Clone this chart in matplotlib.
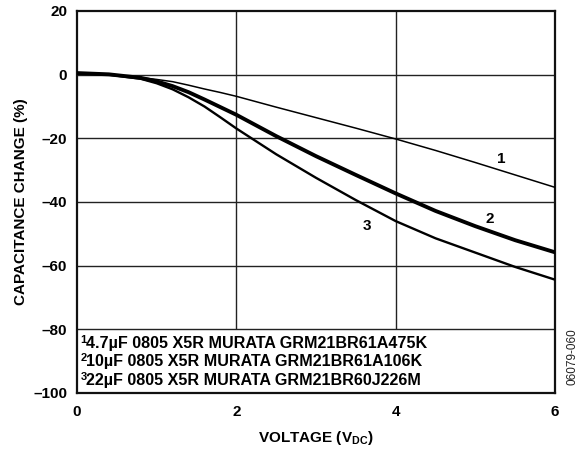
import matplotlib
matplotlib.use("Agg")
import matplotlib.pyplot as plt

plt.rcParams['font.family'] = ['Liberation Sans', 'DejaVu Sans']
plt.rcParams['font.weight'] = 'bold'
plt.rcParams['mathtext.fontset'] = 'custom'
plt.rcParams['mathtext.rm'] = 'Liberation Sans:bold'
plt.rcParams['mathtext.it'] = 'Liberation Sans:bold'
plt.rcParams['mathtext.bf'] = 'Liberation Sans:bold'

# ---- data ----
voltage = [0.0, 0.4, 0.8, 1.0, 1.2, 1.4, 1.6, 1.8, 2.0, 2.5, 3.0, 3.5, 4.0, 4.5, 5.0, 5.5, 6.0]
cap1 = [0.5, 0.1, -0.9, -1.5, -2.2, -3.3, -4.5, -5.6, -6.8, -10.2, -13.5, -16.8, -20.2, -23.8, -27.6, -31.5, -35.4]
cap2 = [0.5, 0.1, -1.0, -2.1, -3.6, -5.5, -7.8, -10.2, -12.6, -19.3, -25.6, -31.5, -37.3, -42.8, -47.6, -52.0, -55.8]
cap3 = [0.5, 0.0, -1.3, -2.7, -4.6, -7.1, -10.0, -13.4, -16.9, -25.0, -32.4, -39.4, -46.0, -51.4, -55.9, -60.4, -64.4]
curve_labels = ["1", "2", "3"]
label_pos = [(5.33, -26.6), (5.18, -45.3), (3.64, -47.5)]
legend_sups = ["1", "2", "3"]
legend_texts = [
    "4.7\u00b5F 0805 X5R MURATA GRM21BR61A475K",
    "10\u00b5F 0805 X5R MURATA GRM21BR61A106K",
    "22\u00b5F 0805 X5R MURATA GRM21BR60J226M",
]
xticks = [0, 2, 4, 6]
yticks = [20, 0, -20, -40, -60, -80, -100]

fig = plt.figure(figsize=(5.8, 4.49), dpi=100)
ax = fig.add_axes([77/580, 1 - 393/449, (555-77)/580, (393-11)/449])
ax.set_xlim(0, 6)
ax.set_ylim(-100, 20)

grid_c = '#222222'
for y in [0, -20, -40, -60, -80]:
    ax.axhline(y, color=grid_c, lw=1.0, zorder=1)
for x in [2, 4]:
    ax.vlines(x, -80, 20, color=grid_c, lw=1.0, zorder=1)

ax.plot(voltage, cap1, color='black', lw=1.1, zorder=3)
ax.plot(voltage, cap2, color='black', lw=2.8, zorder=3)
ax.plot(voltage, cap3, color='black', lw=1.7, zorder=3)

for lab, (lx, ly) in zip(curve_labels, label_pos):
    ax.text(lx, ly, lab, fontsize=11, fontweight='bold', ha='center', va='center')

for i, (sup, txt) in enumerate(zip(legend_sups, legend_texts)):
    yy = -84.3 - i * 5.85
    ax.text(0.045, yy + 1.0, sup, fontsize=8, fontweight='bold', ha='left', va='center')
    ax.text(0.115, yy, txt, fontsize=11.6, fontweight='bold', ha='left', va='center')

ax.set_xticks(xticks)
ax.set_yticks(yticks)
ax.set_xticklabels([str(t) for t in xticks])
ax.set_yticklabels([str(t).replace('-', '\u2013') for t in yticks])
ax.tick_params(axis='y', length=0, labelsize=11, pad=7)
ax.tick_params(axis='x', length=0, labelsize=11, pad=9)
for lbl in ax.get_xticklabels() + ax.get_yticklabels():
    lbl.set_fontweight('bold')

for s in ax.spines.values():
    s.set_linewidth(1.6)
    s.set_color('#111111')

ax.set_ylabel("CAPACITANCE CHANGE (%)", fontsize=11, fontweight='bold')
ax.set_xlabel(r"VOLTAGE (V$_{DC}$)", fontsize=11, fontweight='bold')
ax.yaxis.set_label_coords((21 - 77) / 478, 0.5)
ax.xaxis.set_label_coords(0.5, -(438 - 393) / 382)
ax.xaxis.label.set_va('center')
ax.yaxis.label.set_va('center')

fig.text(573/580, 1 - 357/449, "06079-060", fontsize=8.5, fontweight='normal',
         rotation=90, ha='center', va='center', color='#222222')

fig.savefig("out.png", dpi=100)
